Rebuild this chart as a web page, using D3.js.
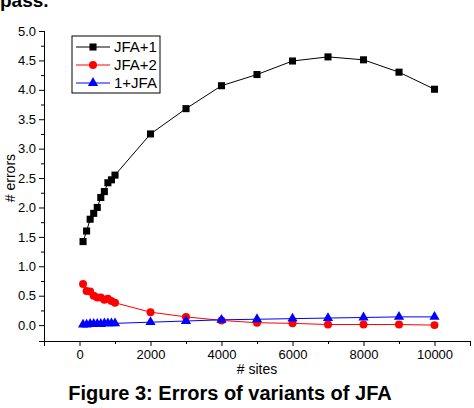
<!DOCTYPE html><html><head><script src="https://cdn.jsdelivr.net/npm/d3@7"></script>
<style>body{margin:0;background:#fff}text{font-family:Arial,"Liberation Sans",sans-serif}</style></head><body><svg id="c" width="474" height="408"></svg>
<script>
const xs=[100,200,300,400,500,600,700,800,900,1000,2000,3000,4000,5000,6000,7000,8000,9000,10000];
const jfa1=[1.42,1.6,1.8,1.9,2.0,2.17,2.27,2.42,2.47,2.55,3.25,3.68,4.07,4.26,4.49,4.56,4.51,4.3,4.01];
const jfa2=[0.7,0.58,0.57,0.5,0.47,0.47,0.43,0.45,0.41,0.38,0.22,0.14,0.08,0.04,0.03,0.01,0.01,0.01,0.0];
const jfa3=[0.01,0.01,0.02,0.02,0.02,0.02,0.03,0.03,0.03,0.03,0.05,0.07,0.09,0.1,0.11,0.12,0.13,0.14,0.14];
const xTicks=[0,2000,4000,6000,8000,10000];
const yTicks=[0,0.5,1,1.5,2,2.5,3,3.5,4,4.5,5];
const series=[{name:"JFA+1",v:jfa1,c:"#000",s:d3.symbolSquare},{name:"JFA+2",v:jfa2,c:"#f00",s:d3.symbolCircle},{name:"1+JFA",v:jfa3,c:"#00f",s:d3.symbolTriangle}];
const svg=d3.select("#c");
const x=d3.scaleLinear().domain([-1000,11000]).range([44,470]);
const y=d3.scaleLinear().domain([-0.27,5]).range([341,31]);
svg.append("text").attr("x",0).attr("y",7).attr("font-weight","bold").attr("font-size",19).text("pass.");
const ya=svg.append("g").attr("transform","translate(44,0)").call(d3.axisLeft(y).tickValues(yTicks).tickFormat(d3.format(".1f")).tickSize(5).tickPadding(3));
ya.selectAll("text").attr("font-size",13);
svg.append("g").attr("transform","translate(44,0)").call(d3.axisLeft(y).tickValues(d3.range(0.25,5,0.5)).tickFormat("").tickSize(3));
const xa=svg.append("g").attr("transform","translate(0,341)").call(d3.axisBottom(x).tickValues(xTicks).tickSize(5).tickPadding(4).tickFormat(d3.format("d")));
xa.selectAll("text").attr("font-size",13);
svg.append("g").attr("transform","translate(0,341)").call(d3.axisBottom(x).tickValues([-1000,1000,3000,5000,7000,9000,11000]).tickFormat("").tickSize(3));
svg.selectAll(".domain").attr("stroke","#000");
svg.append("text").attr("x",x(5000)).attr("y",374).attr("text-anchor","middle").attr("font-size",14).text("# sites");
svg.append("text").attr("transform",`translate(15,${y(2.5)}) rotate(-90)`).attr("text-anchor","middle").attr("font-size",14).text("# errors");
series.forEach(s=>{
 const line=d3.line().x((d,i)=>x(xs[i])).y(d=>y(d));
 svg.append("path").attr("d",line(s.v)).attr("fill","none").attr("stroke",s.c).attr("stroke-width",1);
 svg.selectAll(null).data(s.v).join("path").attr("transform",(d,i)=>`translate(${x(xs[i])},${y(d)})`).attr("d",d3.symbol(s.s,s.s===d3.symbolTriangle?45:50)()).attr("fill",s.c);
});
const lg=svg.append("g");
lg.append("rect").attr("x",72).attr("y",36).attr("width",88).attr("height",57).attr("fill","#fff").attr("stroke","#000");
series.forEach((s,i)=>{const yy=47+i*18;
 lg.append("line").attr("x1",76).attr("x2",110).attr("y1",yy).attr("y2",yy).attr("stroke",s.c);
 lg.append("path").attr("transform",`translate(93,${yy})`).attr("d",d3.symbol(s.s,s.s===d3.symbolTriangle?45:50)()).attr("fill",s.c);
 lg.append("text").attr("x",114).attr("y",yy+5).attr("font-size",15).text(s.name);
});
svg.append("text").attr("x",230).attr("y",400).attr("text-anchor","middle").attr("font-weight","bold").attr("font-size",20).text("Figure 3: Errors of variants of JFA");
</script></body></html>
